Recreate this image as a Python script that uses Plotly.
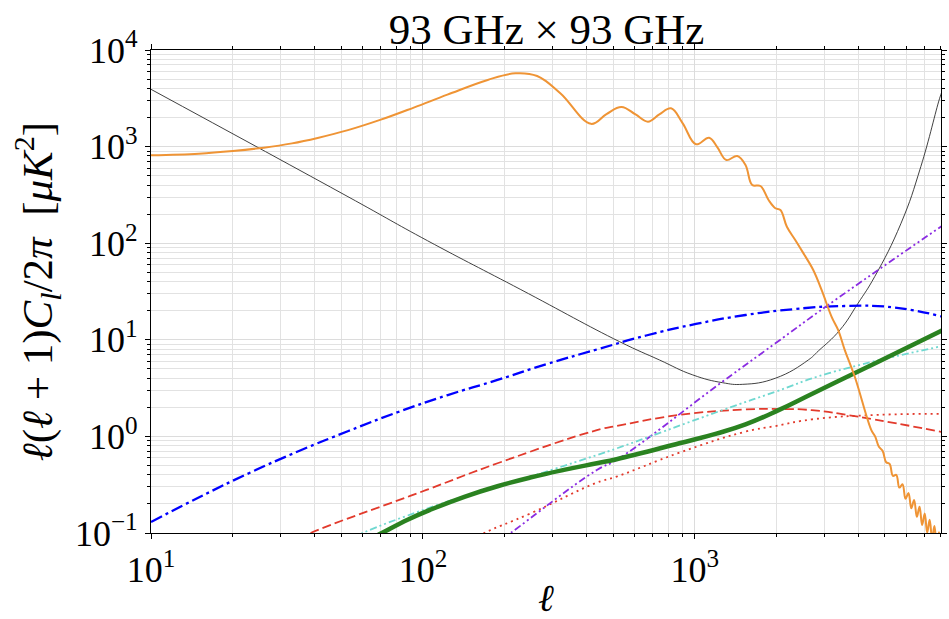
import plotly.graph_objects as go

# ---------------- data ----------------
ell_cmb = [10, 15, 20, 26, 33, 41, 53, 70, 93, 123, 173, 219, 263, 320, 415, 473, 537, 605, 672, 740,
           817, 902, 1009, 1128, 1210, 1305, 1432, 1535, 1625, 1742, 1866, 1976, 2063, 2179, 2339, 2508,
           2724, 2923, 3183, 3365, 3558, 3872, 4455, 4600, 4750, 4900, 5050, 5200, 5350, 5500, 5650,
           5800, 5950, 6100, 6250, 6400, 6550, 6700, 6850, 7000, 7150, 7300, 7450, 7600, 7750, 7900, 8050]
cl_cmb = [813, 845, 900, 975, 1080, 1230, 1480, 1900, 2550, 3450, 4900, 5740, 5380, 3565, 1720, 2173,
          2570, 2150, 1811, 2150, 2490, 1742, 1057, 1236, 980, 726, 800, 646, 400, 391, 280, 230, 221,
          148, 108, 78.5, 52.8, 32.8, 17.3, 12.6, 7.83, 4.15, 1.16, 1.0, 0.78, 0.71, 0.54, 0.52, 0.39,
          0.40, 0.295, 0.32, 0.226, 0.26, 0.18, 0.22, 0.147, 0.187, 0.121, 0.159, 0.101, 0.137, 0.087,
          0.118, 0.075, 0.102, 0.065]

ell_noise = [10, 53, 104, 229, 529, 741, 982, 1262, 1500, 1977, 2612, 2844, 3412, 3981, 4582, 5729, 6773, 7943, 8100]
cl_noise = [3917, 303, 106, 33.1, 9.55, 6.18, 4.33, 3.60, 3.46, 4.0, 6.18, 7.66, 12.6, 23.9, 45, 161, 620, 3162, 3700]

ell_radio = [10, 15.1, 23.0, 35.0, 53.2, 81.1, 123.4, 188, 286, 436, 662, 1009, 1535, 2339, 3558, 5421, 8100]
cl_radio = [0.130, 0.236, 0.418, 0.706, 1.137, 1.789, 2.68, 3.84, 5.62, 7.94, 11.08, 14.58, 18.06, 20.84, 22.39, 21.6, 17.4]

ell_ps = [190, 210, 436, 515, 1262, 1977, 3090, 8100]
cl_ps = [0.082, 0.1, 0.449, 0.57, 3.68, 9.2, 22.9, 151]

ell_ksz = [55, 60, 103, 142, 188, 436, 515, 1262, 1977, 3090, 8100]
cl_ksz = [0.088, 0.1, 0.178, 0.240, 0.300, 0.641, 0.75, 1.87, 2.90, 4.49, 8.6]

ell_tot = [63, 70.3, 88.2, 107, 142, 188, 248, 330, 436, 515, 877, 1200, 1535, 2031, 2690, 4706, 8100]
cl_tot = [0.085, 0.0993, 0.138, 0.175, 0.237, 0.305, 0.375, 0.45, 0.527, 0.580, 0.849, 1.07, 1.33, 1.87,
          2.75, 5.90, 12.5]

ell_cibc = [35, 38.6, 103, 188, 436, 515, 877, 1535, 2031, 2690, 3981, 8100]
cl_cibc = [0.087, 0.1, 0.279, 0.527, 1.16, 1.28, 1.67, 1.90, 1.92, 1.87, 1.60, 1.11]

ell_cibp = [160, 168, 248, 436, 515, 877, 1535, 1977, 2690, 4706, 8100]
cl_cibp = [0.092, 0.1, 0.159, 0.332, 0.383, 0.678, 1.12, 1.28, 1.50, 1.67, 1.71]

x_major = [10, 100, 1000]
x_major_text = ["10<sup>1</sup>", "10<sup>2</sup>", "10<sup>3</sup>"]
y_major = [0.1, 1, 10, 100, 1000, 10000]
y_major_text = ["10<sup>−1</sup>", "10<sup>0</sup>", "10<sup>1</sup>", "10<sup>2</sup>", "10<sup>3</sup>", "10<sup>4</sup>"]

title_text = "93 GHz × 93 GHz"
xlabel = "<i>ℓ</i>"
ylabel = "<i>ℓ</i>(<i>ℓ</i> + 1)<i>C<sub>l</sub></i>/2<i>π</i>&nbsp;&nbsp;[<i>μK</i><sup>2</sup>]"

x_minor = [m * 10 ** k for k in range(1, 4) for m in range(2, 10) if m * 10 ** k <= 9000]
y_minor = [m * 10.0 ** k for k in range(-1, 4) for m in range(2, 10)]

# ---------------- figure ----------------
fig = go.Figure()

def add(x, y, color, width, dash="solid", smoothing=1.3):
    fig.add_trace(go.Scatter(
        x=x, y=y, mode="lines",
        line=dict(color=color, width=width, dash=dash, shape="spline", smoothing=smoothing),
        showlegend=False, hoverinfo="skip"))

add(ell_noise, cl_noise, "#2b2b2b", 0.9)
add(ell_radio, cl_radio, "#0000ff", 2.3, "12px,4px,3px,4px")
add(ell_cibc, cl_cibc, "#e23a2c", 1.8, "9px,4px")
add(ell_cibp, cl_cibp, "#e23a2c", 1.8, "2px,4px")
add(ell_ps, cl_ps, "#8a2be2", 1.8, "7px,3px,2px,3px,2px,3px")
add(ell_ksz, cl_ksz, "#6fd8d0", 1.8, "7px,3px,2px,3px,2px,3px")
add(ell_tot, cl_tot, "#2a8220", 4.5)
add(ell_cmb, cl_cmb, "#ef9435", 2.0, smoothing=1.1)

serif = "Liberation Serif, DejaVu Serif, serif"
axis_common = dict(
    showline=True, linecolor="black", linewidth=1.2, mirror="ticks",
    ticks="outside", ticklen=5, tickwidth=1, tickcolor="black",
    showgrid=True, gridcolor="#dcdcdc", gridwidth=1,
    zeroline=False, tickfont=dict(family=serif, size=36, color="black"),
)

fig.update_xaxes(type="log", range=[1, 3.905], tickmode="array",
                 tickvals=x_major, ticktext=x_major_text,
                 minor=dict(tickmode="array", tickvals=x_minor, ticks="outside", ticklen=3,
                            tickcolor="black", showgrid=True, gridcolor="#e2e2e2", gridwidth=1),
                 title=dict(text=xlabel, font=dict(family=serif, size=38, color="black"), standoff=0),
                 **axis_common)
fig.update_yaxes(type="log", range=[-1, 4], tickmode="array",
                 tickvals=y_major, ticktext=y_major_text,
                 minor=dict(tickmode="array", tickvals=y_minor, ticks="outside", ticklen=3,
                            tickcolor="black", showgrid=True, gridcolor="#e2e2e2", gridwidth=1),
                 title=dict(text=ylabel, font=dict(family=serif, size=43, color="black"), standoff=8),
                 **axis_common)

fig.update_layout(
    width=949, height=619,
    margin=dict(l=151, r=2, t=50, b=86),
    paper_bgcolor="white", plot_bgcolor="white",
    title=dict(text=title_text, x=0.576, xanchor="center", y=0.953, yanchor="middle",
               font=dict(family=serif, size=43, color="black")),
)

fig.write_html("out.html")
